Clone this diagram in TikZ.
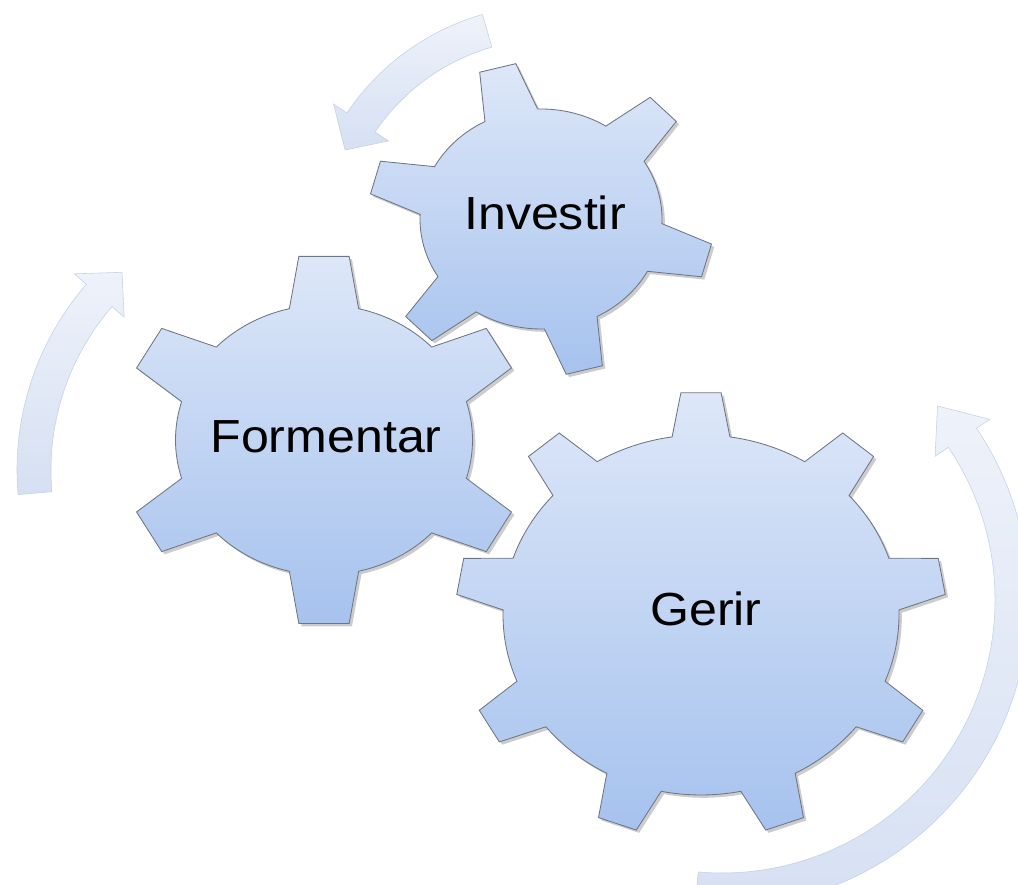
\documentclass[tikz,border=0pt]{standalone}
\usepackage{fontspec}
\setmainfont{Liberation Sans}
\usetikzlibrary{shadows}
\definecolor{geartop}{HTML}{DDE7F8}
\definecolor{gearbot}{HTML}{A6C2EE}
\definecolor{gearedge}{HTML}{6E7582}
\definecolor{arrtop}{HTML}{EEF2FA}
\definecolor{arrbot}{HTML}{D6E0F3}
\definecolor{arredge}{HTML}{C6D0E3}
\tikzset{gear/.style={draw=gearedge, line width=0.6pt, top color=geartop, bottom color=gearbot,
    drop shadow={shadow xshift=2pt, shadow yshift=-2pt, opacity=.2, fill=black}},
  band/.style={draw=arredge, line width=0.4pt, top color=arrtop, bottom color=arrbot},
  lbl/.style={font=\fontsize{33}{40}\selectfont, text=black, xscale=1.08}}
% #1 centre, #2 teeth, #3 first tooth, #4 tip radius, #5 root radius, #6 half base, #7 half tip
\newcommand{\gearwheel}[7]{%
  \begin{scope}[shift={#1}, xscale=1.1]
    \draw[gear] (#3-#6:#5)
      \foreach \k [evaluate=\k as \a using #3+(\k-1)*360/#2] in {1,...,#2}{
        -- (\a-#7:#4) -- (\a+#7:#4) -- (\a+#6:#5)
        arc[start angle=\a+#6, end angle=\a+360/#2-#6, radius=#5]} -- cycle;
  \end{scope}}
% #1 centre, #2 radius, #3 tail angle, #4 head angle, #5 tip angle
\newcommand{\bandarrow}[5]{%
  \begin{scope}[shift={#1}]
    \draw[band] (#3:#2+17) arc[start angle=#3, end angle=#4, radius=#2+17]
      -- (#4:#2+33) -- (#5:#2) -- (#4:#2-33) -- (#4:#2-17)
      arc[start angle=#4, end angle=#3, radius=#2-17] -- cycle;
  \end{scope}}

\begin{document}
\begin{tikzpicture}[x=0.025cm, y=0.025cm]
\useasboundingbox (0,0) rectangle (1018,885);

\bandarrow{(550,635)}{228}{106}{146}{154}
\bandarrow{(300,415)}{266}{185}{139}{132}
\bandarrow{(722,285)}{290}{-95}{34}{42}

\gearwheel{(541,666)}{6}{104.6}{157}{110}{13}{6.2}
\gearwheel{(324,445)}{6}{90}{185}{135}{13.5}{7.1}
\gearwheel{(701,270)}{9}{90}{223}{180}{8.4}{4.7}

\node[lbl] (inv) at (545,672) {Investir};
\node[lbl] (form) at (326,448) {Formentar};
\node[lbl] (ger) at (706,276) {Gerir};

\end{tikzpicture}
\end{document}
